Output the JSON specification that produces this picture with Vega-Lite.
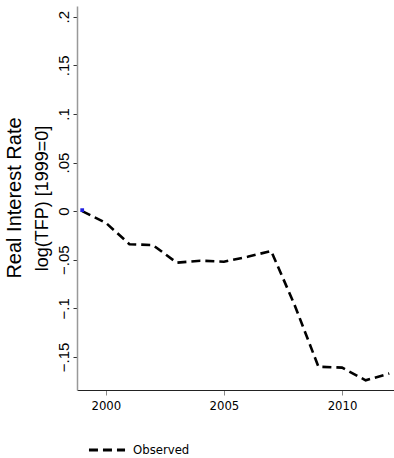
{
  "$schema": "https://vega.github.io/schema/vega-lite/v6.json",
  "autosize": {"type": "none"},
  "padding": {"left": 77, "top": 6, "right": 0, "bottom": 68},
  "width": 317,
  "height": 384,
  "background": "white",
  "title": {
    "text": "Real Interest Rate",
    "orient": "left",
    "anchor": "middle",
    "font": "Liberation Sans",
    "fontSize": 20,
    "fontWeight": "normal",
    "color": "#000000",
    "offset": 8
  },
  "datasets": {
    "tfp": [
      {"year": 1999, "value": 0.0, "series": "Observed"},
      {"year": 2000, "value": -0.012, "series": "Observed"},
      {"year": 2001, "value": -0.034, "series": "Observed"},
      {"year": 2002, "value": -0.035, "series": "Observed"},
      {"year": 2003, "value": -0.053, "series": "Observed"},
      {"year": 2004, "value": -0.051, "series": "Observed"},
      {"year": 2005, "value": -0.052, "series": "Observed"},
      {"year": 2006, "value": -0.047, "series": "Observed"},
      {"year": 2007, "value": -0.041, "series": "Observed"},
      {"year": 2008, "value": -0.097, "series": "Observed"},
      {"year": 2009, "value": -0.160, "series": "Observed"},
      {"year": 2010, "value": -0.161, "series": "Observed"},
      {"year": 2011, "value": -0.174, "series": "Observed"},
      {"year": 2012, "value": -0.167, "series": "Observed"}
    ],
    "rate": [
      {"year": 1999, "value": 0.001}
    ]
  },
  "layer": [
    {
      "data": {"name": "tfp"},
      "mark": {"type": "line", "strokeDash": [9, 5], "strokeWidth": 2.6, "strokeCap": "butt", "strokeJoin": "miter"},
      "encoding": {
        "x": {
          "field": "year", "type": "quantitative",
          "scale": {"domain": [1998.78, 2012.2], "nice": false, "zero": false},
          "axis": {
            "values": [2000, 2005, 2010], "format": "d", "title": null, "grid": false,
            "domainColor": "#222222", "domainWidth": 1.2,
            "tickColor": "#888888", "tickSize": 5, "tickWidth": 1,
            "labelFont": "DejaVu Sans Condensed, Liberation Sans", "labelFontSize": 13, "labelColor": "#000000",
            "labelPadding": 4
          }
        },
        "y": {
          "field": "value", "type": "quantitative",
          "scale": {"domain": [-0.184, 0.211], "nice": false, "zero": false},
          "axis": {
            "values": [-0.15, -0.1, -0.05, 0, 0.05, 0.1, 0.15, 0.2],
            "labelExpr": "replace(format(datum.value, '~g'), '0.', '.')",
            "title": "log(TFP) [1999=0]",
            "titleFont": "Liberation Sans", "titleFontSize": 18, "titleFontWeight": "normal",
            "titleColor": "#000000", "titlePadding": 5,
            "grid": false,
            "domainColor": "#999999", "domainWidth": 1.5,
            "tickColor": "#333333", "tickSize": 4, "tickWidth": 1,
            "labelAngle": -90, "labelAlign": "center", "labelBaseline": "bottom",
            "labelFont": "Liberation Sans", "labelFontSize": 15, "labelColor": "#000000",
            "labelPadding": 2
          }
        },
        "color": {
          "field": "series", "type": "nominal",
          "scale": {"range": ["#000000"]},
          "legend": {
            "title": null, "orient": "none", "legendX": 10, "legendY": 424,
            "symbolType": "stroke", "symbolSize": 1300, "symbolStrokeWidth": 3,
            "symbolDash": [9, 5],
            "labelFont": "DejaVu Sans Condensed, Liberation Sans", "labelFontSize": 13, "labelColor": "#000000",
            "labelOffset": 6
          }
        }
      }
    },
    {
      "data": {"name": "rate"},
      "mark": {"type": "point", "shape": "square", "filled": true, "size": 14, "color": "#1f1fe0", "opacity": 1},
      "encoding": {
        "x": {"field": "year", "type": "quantitative"},
        "y": {"field": "value", "type": "quantitative"}
      }
    }
  ],
  "config": {
    "view": {"stroke": null}
  }
}
